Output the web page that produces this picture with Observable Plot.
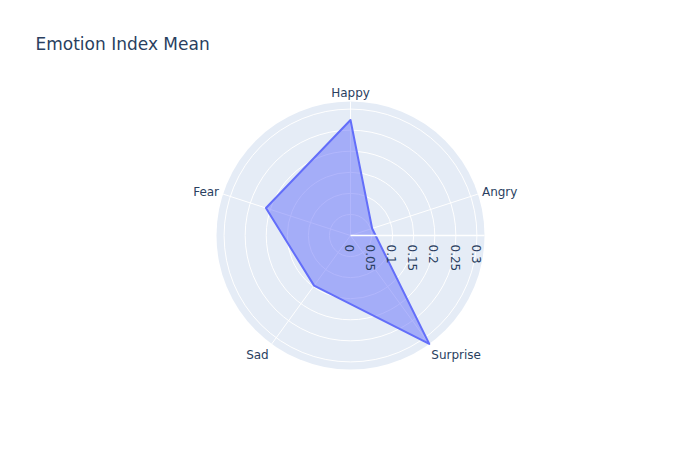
<!DOCTYPE html>
<html><head><meta charset="utf-8">
<script src="https://cdn.jsdelivr.net/npm/d3@7"></script>
<script src="https://cdn.jsdelivr.net/npm/@observablehq/plot@0.6"></script>
<style>body{margin:0;background:#fff;}</style>
</head><body><div id="chart"></div>
<script>
const emotions = ["Happy", "Angry", "Surprise", "Sad", "Fear"];
const values = [0.274, 0.054, 0.318, 0.147, 0.211];
const radialTicks = [0, 0.05, 0.1, 0.15, 0.2, 0.25, 0.3];
const title = "Emotion Index Mean";

const R = d3.max(values);
const n = emotions.length;
const ang = i => i * 2 * Math.PI / n; // clockwise from north
const pts = emotions.map((e, i) => ({
  emotion: e, value: values[i],
  x: values[i] * Math.sin(ang(i)), y: values[i] * Math.cos(ang(i))
}));
const spokes = emotions.map((e, i) => ({
  emotion: e, x2: R * Math.sin(ang(i)), y2: R * Math.cos(ang(i))
}));
const topLbl = spokes.filter(d => Math.abs(d.x2) < 1e-9);
const upperRight = spokes.filter(d => d.x2 > 1e-9 && d.y2 >= 0);
const upperLeft = spokes.filter(d => d.x2 < -1e-9 && d.y2 >= 0);
const lowerRight = spokes.filter(d => d.x2 > 1e-9 && d.y2 < 0);
const lowerLeft = spokes.filter(d => d.x2 < -1e-9 && d.y2 < 0);

const txt = "#2a3f5f";
const lbl = (data, o) => Plot.text(data, {x: "x2", y: "y2", text: "emotion", fontSize: 12, fill: txt, ...o});

const chart = Plot.plot({
  width: 700, height: 450,
  margin: 0,
  x: {domain: [-R, R], range: [216, 484], axis: null},
  y: {domain: [-R, R], range: [369, 101], axis: null},
  r: {type: "linear", domain: [0, R], range: [0, 134]},
  style: {fontFamily: '"DejaVu Sans", Verdana, sans-serif', background: "white"},
  marks: [
    Plot.dot([R], {x: () => 0, y: () => 0, r: d => d, fill: "#E5ECF6", stroke: "none"}),
    Plot.dot(radialTicks.filter(t => t > 0), {x: () => 0, y: () => 0, r: d => d, fill: "none", stroke: "white", strokeWidth: 1}),
    Plot.link(spokes, {x1: () => 0, y1: () => 0, x2: "x2", y2: "y2", stroke: "white", strokeWidth: 1}),
    Plot.line(pts, {x: "x", y: "y", curve: "linear-closed", stroke: "#636efa", strokeWidth: 2,
      fill: "#636efa", fillOpacity: 0.5, strokeLinejoin: "round"}),
    Plot.link([R], {x1: () => 0, y1: () => 0, x2: d => d, y2: () => 0, stroke: "white", strokeWidth: 1.5}),
    Plot.text(radialTicks, {x: d => d, y: () => 0, text: d => String(d), rotate: 90,
      textAnchor: "start", lineAnchor: "middle", dy: 9, dx: -1.5, fontSize: 12, fill: txt}),
    lbl(topLbl, {textAnchor: "middle", lineAnchor: "bottom", dy: -5}),
    lbl(upperRight, {textAnchor: "start", lineAnchor: "middle", dx: 4, dy: -2}),
    lbl(upperLeft, {textAnchor: "end", lineAnchor: "middle", dx: -4, dy: -2}),
    lbl(lowerRight, {textAnchor: "start", lineAnchor: "middle", dx: 2, dy: 11}),
    lbl(lowerLeft, {textAnchor: "end", lineAnchor: "middle", dx: -3, dy: 11}),
    Plot.text([title], {frameAnchor: "top-left", text: d => d, dx: 35, dy: 44,
      textAnchor: "start", lineAnchor: "middle", fontSize: 17, fill: txt})
  ]
});
document.getElementById("chart").appendChild(chart);
</script>
</body></html>
